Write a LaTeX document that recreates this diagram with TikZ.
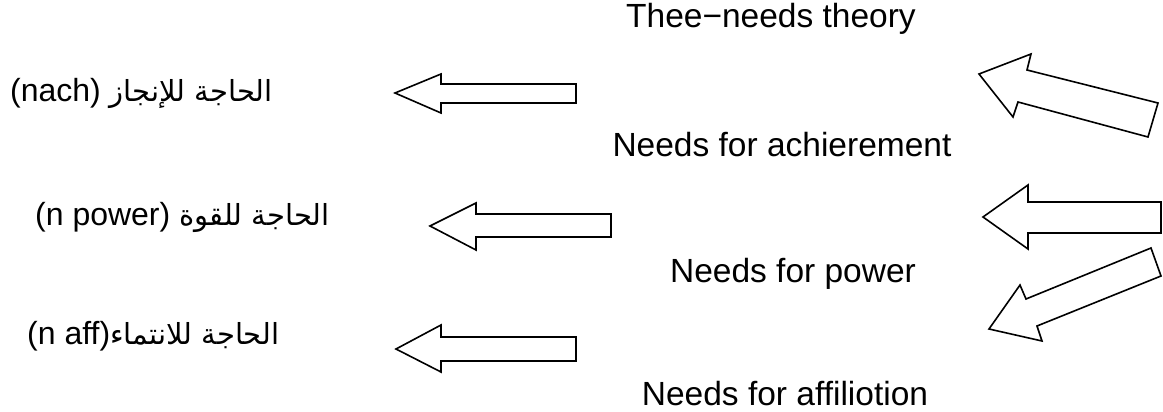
\documentclass[tikz,border=0pt]{standalone}
\usepackage{fontspec}
\setmainfont{Liberation Sans}
\newfontfamily\arabicfont[Script=Arabic]{DejaVu Sans}
\TeXXeTstate=1
\newcommand{\arsz}{\fontsize{29}{36}\selectfont}
\begin{document}
\begin{tikzpicture}[x=1pt,y=-1pt,
  blockarrow/.style={draw=black,line width=1.6pt,fill=white,line join=miter},
  entext/.style={anchor=base,inner sep=0pt,font=\fontsize{33.5}{40}\selectfont},
  artext/.style={anchor=base west,inner sep=0pt,font=\fontsize{32}{40}\selectfont}]
\useasboundingbox (0,0) rectangle (1163,412);
% left arrows
\draw[blockarrow] (395,93) -- (441,74) -- (441,84) -- (576,84) -- (576,103) -- (441,103) -- (441,113) -- cycle;
\draw[blockarrow] (430,226) -- (476,203) -- (476,214) -- (611,214) -- (611,237) -- (476,237) -- (476,250) -- cycle;
\draw[blockarrow] (396,349) -- (441,325) -- (441,337) -- (576,337) -- (576,361) -- (441,361) -- (441,372) -- cycle;
% right arrows
\draw[blockarrow] (979,74) -- (1031,54) -- (1027,70) -- (1158,103) -- (1148,137) -- (1018,102) -- (1013,117) -- cycle;
\draw[blockarrow] (983,217) -- (1028,185) -- (1028,202) -- (1161,202) -- (1161,233) -- (1028,233) -- (1028,249) -- cycle;
\draw[blockarrow] (989,329) -- (1020,285) -- (1026,299) -- (1151,248) -- (1161,276) -- (1037,326) -- (1042,341) -- cycle;
% English labels
\node[entext] (t0) at (771,28) {Thee−needs theory};
\node[entext] (t1) at (782,157) {Needs for achierement};
\node[entext] (t2) at (793,282) {Needs for power};
\node[entext] (t3) at (785,405) {Needs for affiliotion};
% Arabic labels
\node[artext] (a1) at (10,102) {\beginR{\arabicfont\arsz الحاجة للإنجاز} \beginL(nach)\endL\endR};
\node[artext] (a2) at (35,225) {\beginR{\arabicfont\arsz الحاجة للقوة} \beginL(n power)\endL\endR};
\node[artext] (a3) at (27,344) {\beginR{\arabicfont\arsz الحاجة للانتماء}\beginL(n aff)\endL\endR};
\end{tikzpicture}
\end{document}
